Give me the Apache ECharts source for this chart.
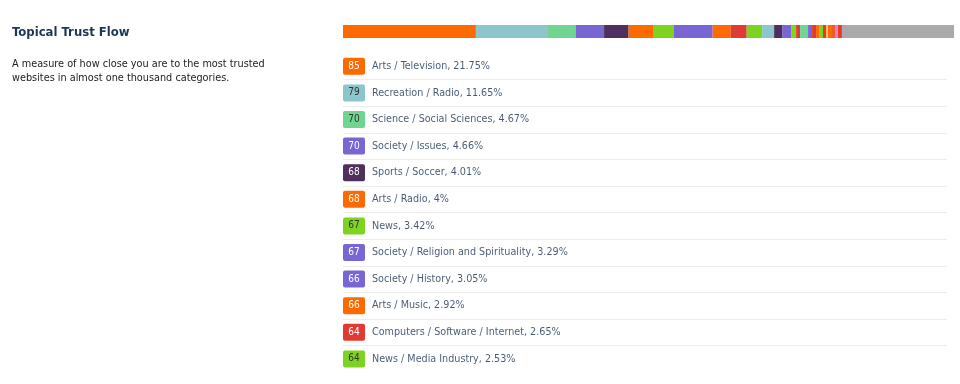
<!DOCTYPE html>
<html>
<head>
<meta charset="utf-8">
<script src="https://cdn.jsdelivr.net/npm/echarts@6/dist/echarts.min.js"></script>
<style>
html,body{margin:0;padding:0;background:#fff;}
#chart{width:960px;height:384px;}
</style>
</head>
<body>
<div id="chart"></div>
<script>
// Listed topics (top 12)
const categories = [
  'Arts / Television', 'Recreation / Radio', 'Science / Social Sciences', 'Society / Issues',
  'Sports / Soccer', 'Arts / Radio', 'News', 'Society / Religion and Spirituality',
  'Society / History', 'Arts / Music', 'Computers / Software / Internet', 'News / Media Industry'
];
const trustFlow = [85, 79, 70, 70, 68, 68, 67, 67, 66, 66, 64, 64];
const shares = [21.75, 11.65, 4.67, 4.66, 4.01, 4, 3.42, 3.29, 3.05, 2.92, 2.65, 2.53];
const topicColors = ['#ff6a00', '#8ac6cc', '#6fd591', '#7766d4', '#4f2f5e', '#ff6a00',
  '#7ed321', '#7766d4', '#7766d4', '#ff6a00', '#e03a32', '#7ed321'];
const badgeTextColors = ['#fff', '#333', '#333', '#fff', '#fff', '#fff', '#333', '#fff', '#fff', '#fff', '#fff', '#333'];

// Smaller topics in the strip (estimated) and the remainder
const tailShares = [1.96, 1.31, 1.47, 0.82, 0.65, 1.31, 0.65, 0.65, 0.49, 0.65, 0.49, 0.33, 0.65, 0.49, 0.49, 0.65];
const tailColors = ['#8ac6cc', '#4f2f5e', '#7766d4', '#7ed321', '#e03a32', '#6fd591', '#7766d4', '#e03a32',
  '#ff6a00', '#7ed321', '#e03a32', '#e8c07a', '#ff6a00', '#f05a28', '#f27ab0', '#e03a32'];
const otherShare = 18.34;
const otherColor = '#aaaaaa';

const FONT = "'DejaVu Sans Condensed', 'DejaVu Sans', sans-serif";
const BADGE = 'path://M2,0 H20 Q22,0 22,2 V15 Q22,17 20,17 H2 Q0,17 0,15 V2 Q0,0 2,0 Z';

const stripShares = shares.concat(tailShares, [otherShare]);
const stripColors = topicColors.concat(tailColors, [otherColor]);

const stripSeries = stripShares.map((v, i) => ({
  type: 'bar',
  xAxisIndex: 0, yAxisIndex: 0,
  stack: 'strip',
  barWidth: 13,
  silent: true,
  data: [v],
  itemStyle: { color: stripColors[i] }
}));

const chart = echarts.init(document.getElementById('chart'), null, { renderer: 'canvas' });
chart.setOption({
  animation: false,
  backgroundColor: '#fff',
  title: {
    left: 12, top: 26, padding: 0,
    text: 'Topical Trust Flow',
    textStyle: { fontFamily: FONT, fontSize: 13, fontWeight: 'bold', color: '#1b3658' },
    subtext: 'A measure of how close you are to the most trusted\nwebsites in almost one thousand categories.',
    subtextStyle: { fontFamily: FONT, fontSize: 10.8, color: '#222', lineHeight: 14 },
    itemGap: 18
  },
  grid: [
    { left: 343, width: 611, top: 25, height: 13 },
    { left: 343, right: 13, top: 53, height: 319.2 }
  ],
  xAxis: [
    { gridIndex: 0, type: 'value', min: 0, max: 100, show: false },
    { gridIndex: 1, type: 'value', min: 0, max: 100, show: false }
  ],
  yAxis: [
    { gridIndex: 0, type: 'category', data: ['strip'], show: false },
    {
      gridIndex: 1, type: 'category', data: categories, inverse: true,
      axisLine: { show: false }, axisTick: { show: false }, axisLabel: { show: false },
      splitLine: { show: true, interval: 0, showMinLine: false, showMaxLine: false,
        lineStyle: { color: '#ececec', width: 1 } }
    }
  ],
  series: stripSeries.concat([
    {
      type: 'scatter', xAxisIndex: 1, yAxisIndex: 1, silent: true,
      symbol: BADGE, symbolSize: [22, 17], symbolOffset: [11, 0], symbolKeepAspect: false,
      itemStyle: { opacity: 1 },
      data: trustFlow.map((tf, i) => ({
        value: [0, i],
        itemStyle: { color: topicColors[i], opacity: 1 },
        label: { color: badgeTextColors[i] }
      })),
      label: {
        show: true, position: 'inside',
        fontFamily: FONT, fontSize: 10,
        formatter: p => String(trustFlow[p.dataIndex])
      },
      z: 3
    },
    {
      type: 'scatter', xAxisIndex: 1, yAxisIndex: 1, silent: true,
      symbolSize: 0,
      data: categories.map((c, i) => [0, i]),
      label: {
        show: true, position: 'right', distance: 29,
        fontFamily: FONT, fontSize: 10.7, color: '#16304d',
        formatter: p => categories[p.dataIndex] + ', ' + shares[p.dataIndex] + '%'
      },
      z: 3
    }
  ])
});
</script>
</body>
</html>
